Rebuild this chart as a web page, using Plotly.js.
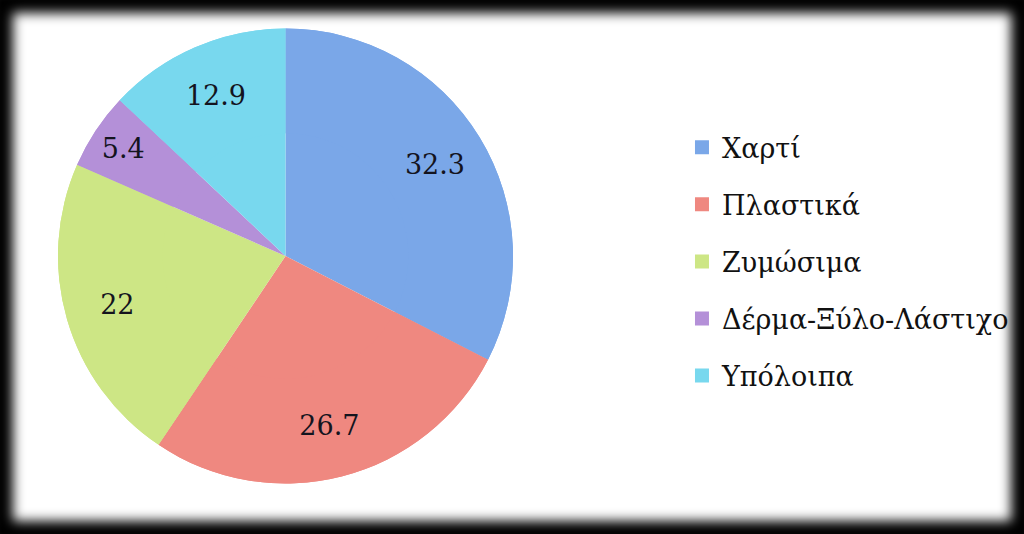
<!DOCTYPE html>
<html>
<head>
<meta charset="utf-8">
<script src="https://cdn.plot.ly/plotly-3.0.1.min.js"></script>
<style>
  html, body { margin: 0; padding: 0; background: #000; }
  #wrap { position: relative; width: 1024px; height: 534px; overflow: hidden; background: #fff; }
  #chart { position: absolute; left: 0; top: 0; width: 1024px; height: 534px; }
  #frame { position: absolute; left: 0; top: 0; width: 1024px; height: 534px; pointer-events: none;
           box-shadow: inset 0 0 12px 13px #000; }
</style>
</head>
<body>
<div id="wrap">
  <div id="chart"></div>
  <div id="frame"></div>
</div>
<script>
const categories = ["Χαρτί", "Πλαστικά", "Ζυμώσιμα", "Δέρμα-Ξύλο-Λάστιχο", "Υπόλοιπα"];
const values = [32.3, 26.7, 22, 5.4, 12.9];
const colors = ["#7aa7e8", "#ef8880", "#cde685", "#b490d8", "#78d8ee"];

const pieDomain = { x: [58 / 1024, 513 / 1024], y: [1 - 484 / 534, 1 - 28 / 534] };

// full pie (the slices)
const pieBase = {
  type: "pie",
  labels: categories,
  values: values,
  sort: false,
  direction: "clockwise",
  rotation: 0,
  marker: { colors: colors, line: { width: 0 } },
  textinfo: "none",
  showlegend: false,
  domain: pieDomain
};

// same pie as a ring on top: carries the value labels out toward the rim
const pieLabels = {
  type: "pie",
  labels: categories,
  values: values,
  sort: false,
  direction: "clockwise",
  rotation: 0,
  hole: 0.54,
  marker: { colors: colors, line: { width: 0 } },
  textinfo: "value",
  textposition: "inside",
  insidetextorientation: "horizontal",
  insidetextfont: { family: "DejaVu Serif", size: 27, color: "#14141e" },
  showlegend: false,
  domain: pieDomain
};

// legend entries (one group per category so the spacing can match)
const legendTraces = categories.map((c, i) => ({
  type: "scatter",
  x: [null],
  y: [null],
  mode: "markers",
  name: c,
  legendgroup: "g" + i,
  marker: { symbol: "square", size: 14, color: colors[i] },
  hoverinfo: "skip"
}));

const layout = {
  width: 1024,
  height: 534,
  margin: { l: 0, r: 0, t: 0, b: 0 },
  paper_bgcolor: "rgba(0,0,0,0)",
  plot_bgcolor: "rgba(0,0,0,0)",
  xaxis: { visible: false },
  yaxis: { visible: false },
  showlegend: true,
  legend: {
    x: 0.666, xanchor: "left",
    y: 0.51, yanchor: "middle",
    traceorder: "grouped",
    tracegroupgap: 19,
    font: { family: "DejaVu Serif", size: 27, color: "#111" },
    bgcolor: "rgba(0,0,0,0)"
  }
};

Plotly.newPlot("chart", [pieBase, pieLabels, ...legendTraces], layout, { displayModeBar: false, staticPlot: true });
</script>
</body>
</html>
